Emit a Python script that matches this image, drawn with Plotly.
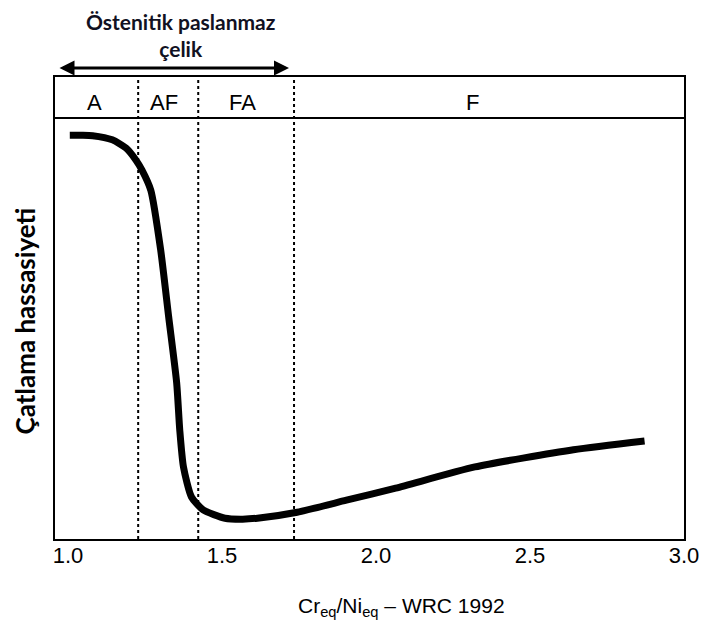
import plotly.graph_objects as go

# Curve data (Cr_eq/Ni_eq vs relative cracking susceptibility, arbitrary 0-100 scale)
cr_ni = [1.006, 1.048, 1.080, 1.144, 1.189, 1.221, 1.240, 1.269, 1.301, 1.327,
         1.353, 1.363, 1.375, 1.401, 1.439, 1.510, 1.567, 1.615, 1.744, 1.904,
         2.064, 2.321, 2.641, 2.872]
susceptibility = [87.4, 87.4, 87.3, 86.4, 84.6, 82.0, 79.9, 75.5, 62.6, 48.1,
                  33.8, 23.6, 15.6, 9.1, 6.3, 4.5, 4.3, 4.5, 5.8, 8.4,
                  11.0, 15.6, 19.3, 21.2]

# Solidification mode boundaries and labels
boundaries = [1.228, 1.423, 1.734]
mode_labels = ["A", "AF", "FA", "F"]
mode_label_x = [1.087, 1.311, 1.567, 2.314]
header_y = 91.1
label_y = 94.4

tick_vals = [1.0, 1.5, 2.0, 2.5, 3.0]
tick_text = ["1.0", "1.5", "2.0", "2.5", "3.0"]

x_range = [0.958, 3.0]
y_range = [0, 100]

W, H = 711, 630
PW, PH = 637, 462  # plot area size
L0, T0 = 55, 77    # plot area top-left on page


def px(xp):
    return (xp - L0) / PW


def py(yp):
    return (T0 + PH - yp) / PH


fig = go.Figure()
fig.add_trace(go.Scatter(
    x=cr_ni, y=susceptibility, mode="lines",
    line=dict(color="black", width=7, shape="spline", smoothing=0.6),
    hoverinfo="skip", showlegend=False,
))

shapes = []
for b in boundaries:
    shapes.append(dict(type="line", xref="x", yref="y", x0=b, x1=b, y0=y_range[0], y1=y_range[1],
                       line=dict(color="black", width=2, dash="dot")))
shapes.append(dict(type="line", xref="paper", yref="y", x0=0, x1=1, y0=header_y, y1=header_y,
                   line=dict(color="black", width=2)))

annotations = []
for lab, lx in zip(mode_labels, mode_label_x):
    annotations.append(dict(x=lx, y=label_y, xref="x", yref="y", text=lab, showarrow=False,
                            xanchor="center", yanchor="middle",
                            font=dict(family="Liberation Sans, Arial, sans-serif", size=22, color="black")))

# Double-headed arrow for the austenitic stainless steel range
annotations.append(dict(x=px(292), y=py(68), xref="paper", yref="paper",
                        ax=-231, ay=0, axref="pixel", ayref="pixel", text="",
                        showarrow=True, arrowhead=2, arrowside="end+start",
                        arrowsize=1, arrowwidth=3, arrowcolor="black"))
annotations.append(dict(x=px(183), y=py(35), xref="paper", yref="paper",
                        text="<b>Östenitik paslanmaz<br>çelik</b>", showarrow=False,
                        font=dict(family="Lato, Open Sans, sans-serif", size=21, color="#111122"),
                        align="center", xanchor="center", yanchor="middle"))
# axis titles
annotations.append(dict(x=px(406), y=py(607), xref="paper", yref="paper",
                        text="Cr<sub>eq</sub>/Ni<sub>eq</sub> – WRC 1992", showarrow=False,
                        font=dict(family="Liberation Sans, Arial, sans-serif", size=21, color="black"),
                        xanchor="center", yanchor="middle"))
annotations.append(dict(x=px(25), y=py(321), xref="paper", yref="paper",
                        text="<b>Çatlama hassasiyeti</b>", showarrow=False, textangle=-90,
                        font=dict(family="Lato, Open Sans, sans-serif", size=26, color="black"),
                        xanchor="center", yanchor="middle"))

fig.update_layout(
    width=W, height=H,
    margin=dict(l=L0, r=W - (L0 + PW), t=T0, b=H - (T0 + PH)),
    paper_bgcolor="white", plot_bgcolor="white",
    shapes=shapes, annotations=annotations,
    showlegend=False,
    xaxis=dict(range=x_range, tickvals=tick_vals, ticktext=tick_text, showgrid=False, zeroline=False,
               showline=True, linecolor="black", linewidth=2, mirror=True, ticks="",
               ticklabelstandoff=-4,
               tickfont=dict(family="Liberation Sans, Arial, sans-serif", size=22, color="black")),
    yaxis=dict(range=y_range, showticklabels=False, showgrid=False, zeroline=False,
               showline=True, linecolor="black", linewidth=2, mirror=True, ticks=""),
)

fig.write_html("out.html", config={"displayModeBar": False},
               post_script="document.body.style.margin='0';document.body.style.overflow='hidden';")
